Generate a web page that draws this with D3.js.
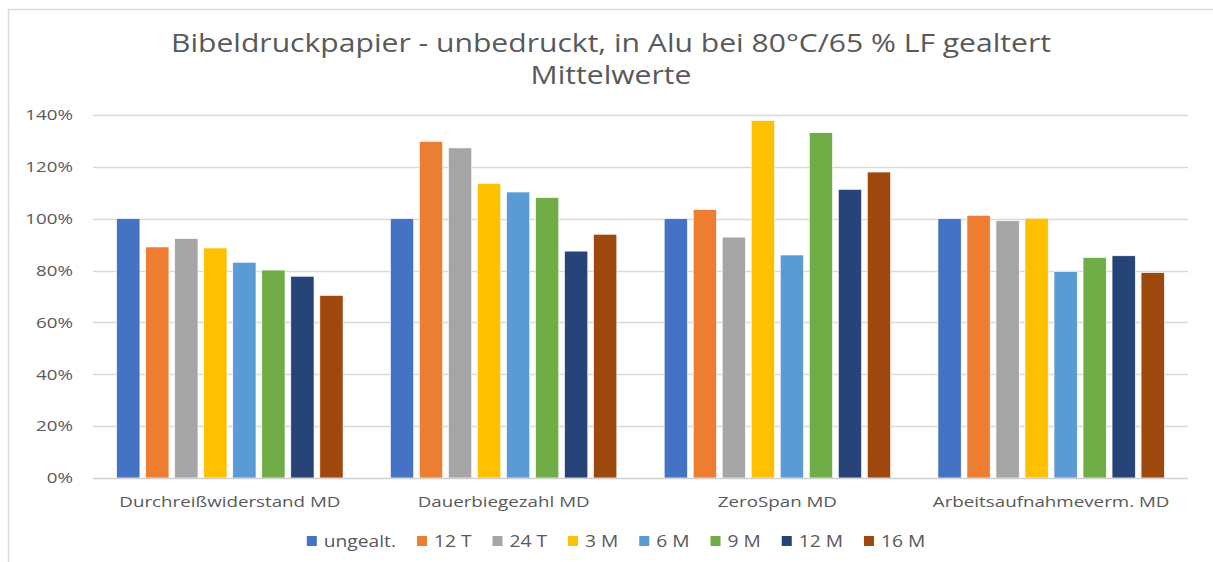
<!DOCTYPE html>
<html>
<head>
<meta charset="utf-8">
<style>
  body { margin: 0; background: #fff; }
  text { font-family: "Open Sans", sans-serif; fill: #595959; }
</style>
</head>
<body>
<svg width="1213" height="562"></svg>
<script src="https://d3js.org/d3.v7.min.js"></script>
<script>

var categories = ["Durchreißwiderstand MD", "Dauerbiegezahl MD", "ZeroSpan MD", "Arbeitsaufnahmeverm. MD"];
var seriesNames = ["ungealt.", "12 T", "24 T", "3 M", "6 M", "9 M", "12 M", "16 M"];
var colors = ["#4472C4", "#ED7D31", "#A5A5A5", "#FFC000", "#5B9BD5", "#70AD47", "#264478", "#9E480E"];

// values in %, one array per category, in series order
var durchreiss = [100, 89.1, 92.3, 88.7, 83.2, 80.2, 77.8, 70.4];
var dauerbiege = [100, 129.8, 127.3, 113.6, 110.3, 108.1, 87.5, 94.0];
var zeroSpan   = [100, 103.5, 92.9, 137.8, 86.0, 133.2, 111.3, 118.0];
var arbeit     = [100, 101.3, 99.2, 100.2, 79.6, 85.0, 85.7, 79.2];
var values = [durchreiss, dauerbiege, zeroSpan, arbeit];

var yTicks = [0, 20, 40, 60, 80, 100, 120, 140];
var titleLines = ["Bibeldruckpapier - unbedruckt, in Alu bei 80°C/65 % LF gealtert", "Mittelwerte"];

var svg = d3.select("svg");

function stretch(k) {
    return function(sel) {
        sel.each(function() {
            var w = this.getComputedTextLength();
            d3.select(this).attr("textLength", w * k).attr("lengthAdjust", "spacingAndGlyphs");
        });
    };
}

// frame
svg.append("line").attr("x1", 8).attr("x2", 1213).attr("y1", 9.5).attr("y2", 9.5)
    .attr("stroke", "#d9d9d9").attr("stroke-width", 1.5);
svg.append("line").attr("x1", 8.5).attr("x2", 8.5).attr("y1", 9).attr("y2", 562)
    .attr("stroke", "#d9d9d9").attr("stroke-width", 1.5);

// title
var title = svg.selectAll(".title").data(titleLines).enter().append("text")
    .attr("class", "title")
    .attr("x", 611)
    .attr("y", function(d, i) { return 52 + i * 32; })
    .attr("text-anchor", "middle")
    .style("font-size", "25px")
    .text(function(d) { return d; });
var titleK = 880 / title.node().getComputedTextLength();
title.call(stretch(titleK));

var x0 = d3.scaleBand().domain(categories).range([93, 1188]).paddingInner(0.152).paddingOuter(0.076);
var x1 = d3.scaleBand().domain(seriesNames).range([0, x0.bandwidth()]).paddingInner(0.2).paddingOuter(0.1);
var y = d3.scaleLinear().domain([0, 140]).range([478, 115]);

// gridlines
svg.append("g").selectAll("line").data(yTicks.slice(1)).enter().append("line")
    .attr("x1", 93).attr("x2", 1188)
    .attr("y1", function(d) { return Math.round(y(d)) + 0.5; })
    .attr("y2", function(d) { return Math.round(y(d)) + 0.5; })
    .attr("stroke", "#d9d9d9").attr("stroke-width", 1.5);

// y axis labels
var yAxis = d3.axisLeft(y).tickValues(yTicks).tickSize(0).tickPadding(0)
    .tickFormat(function(d) { return d + "%"; });
var gy = svg.append("g").attr("transform", "translate(73,0)").call(yAxis);
gy.select(".domain").remove();
gy.selectAll("text").style("font-size", "15px").attr("fill", "#595959")
    .style("font-family", "'Open Sans', sans-serif").call(stretch(1.25));

// bars
var groups = svg.append("g").selectAll("g").data(categories).enter().append("g")
    .attr("transform", function(d) { return "translate(" + x0(d) + ",0)"; });
groups.selectAll("rect")
    .data(function(d, i) { return values[i].map(function(v, j) { return {s: seriesNames[j], v: v, c: colors[j]}; }); })
    .enter().append("rect")
    .attr("x", function(d) { return x1(d.s); })
    .attr("width", x1.bandwidth())
    .attr("y", function(d) { return y(d.v); })
    .attr("height", function(d) { return y(0) - y(d.v); })
    .attr("fill", function(d) { return d.c; })
    .attr("stroke", "#fff").attr("stroke-width", 0.6);

// x axis
var xAxis = d3.axisBottom(x0).tickSize(0).tickPadding(0);
var gx = svg.append("g").attr("transform", "translate(0,478)").call(xAxis);
gx.select(".domain").remove();
gx.selectAll("text").attr("dy", null).attr("y", 29).style("font-size", "15px").attr("fill", "#595959")
    .style("font-family", "'Open Sans', sans-serif").call(stretch(1.25));
svg.append("line").attr("x1", 93).attr("x2", 1188).attr("y1", 478.5).attr("y2", 478.5)
    .attr("stroke", "#d0d0d0").attr("stroke-width", 1.5);

// legend
var legend = svg.append("g").attr("class", "legend");
var items = legend.selectAll("g").data(seriesNames).enter().append("g");
items.append("rect").attr("width", 10).attr("height", 10).attr("y", -5)
    .attr("fill", function(d, i) { return colors[i]; });
items.append("text").attr("x", 17).attr("y", 6).style("font-size", "16px")
    .text(function(d) { return d; }).call(stretch(1.2));
var cursor = 0;
items.each(function() {
    var t = d3.select(this).select("text").node();
    d3.select(this).attr("transform", "translate(" + cursor + ",0)");
    cursor += 17 + (+t.getAttribute("textLength")) + 21;
});
cursor -= 21;
legend.attr("transform", "translate(" + (616 - cursor / 2) + ",541)");

</script>
</body>
</html>
